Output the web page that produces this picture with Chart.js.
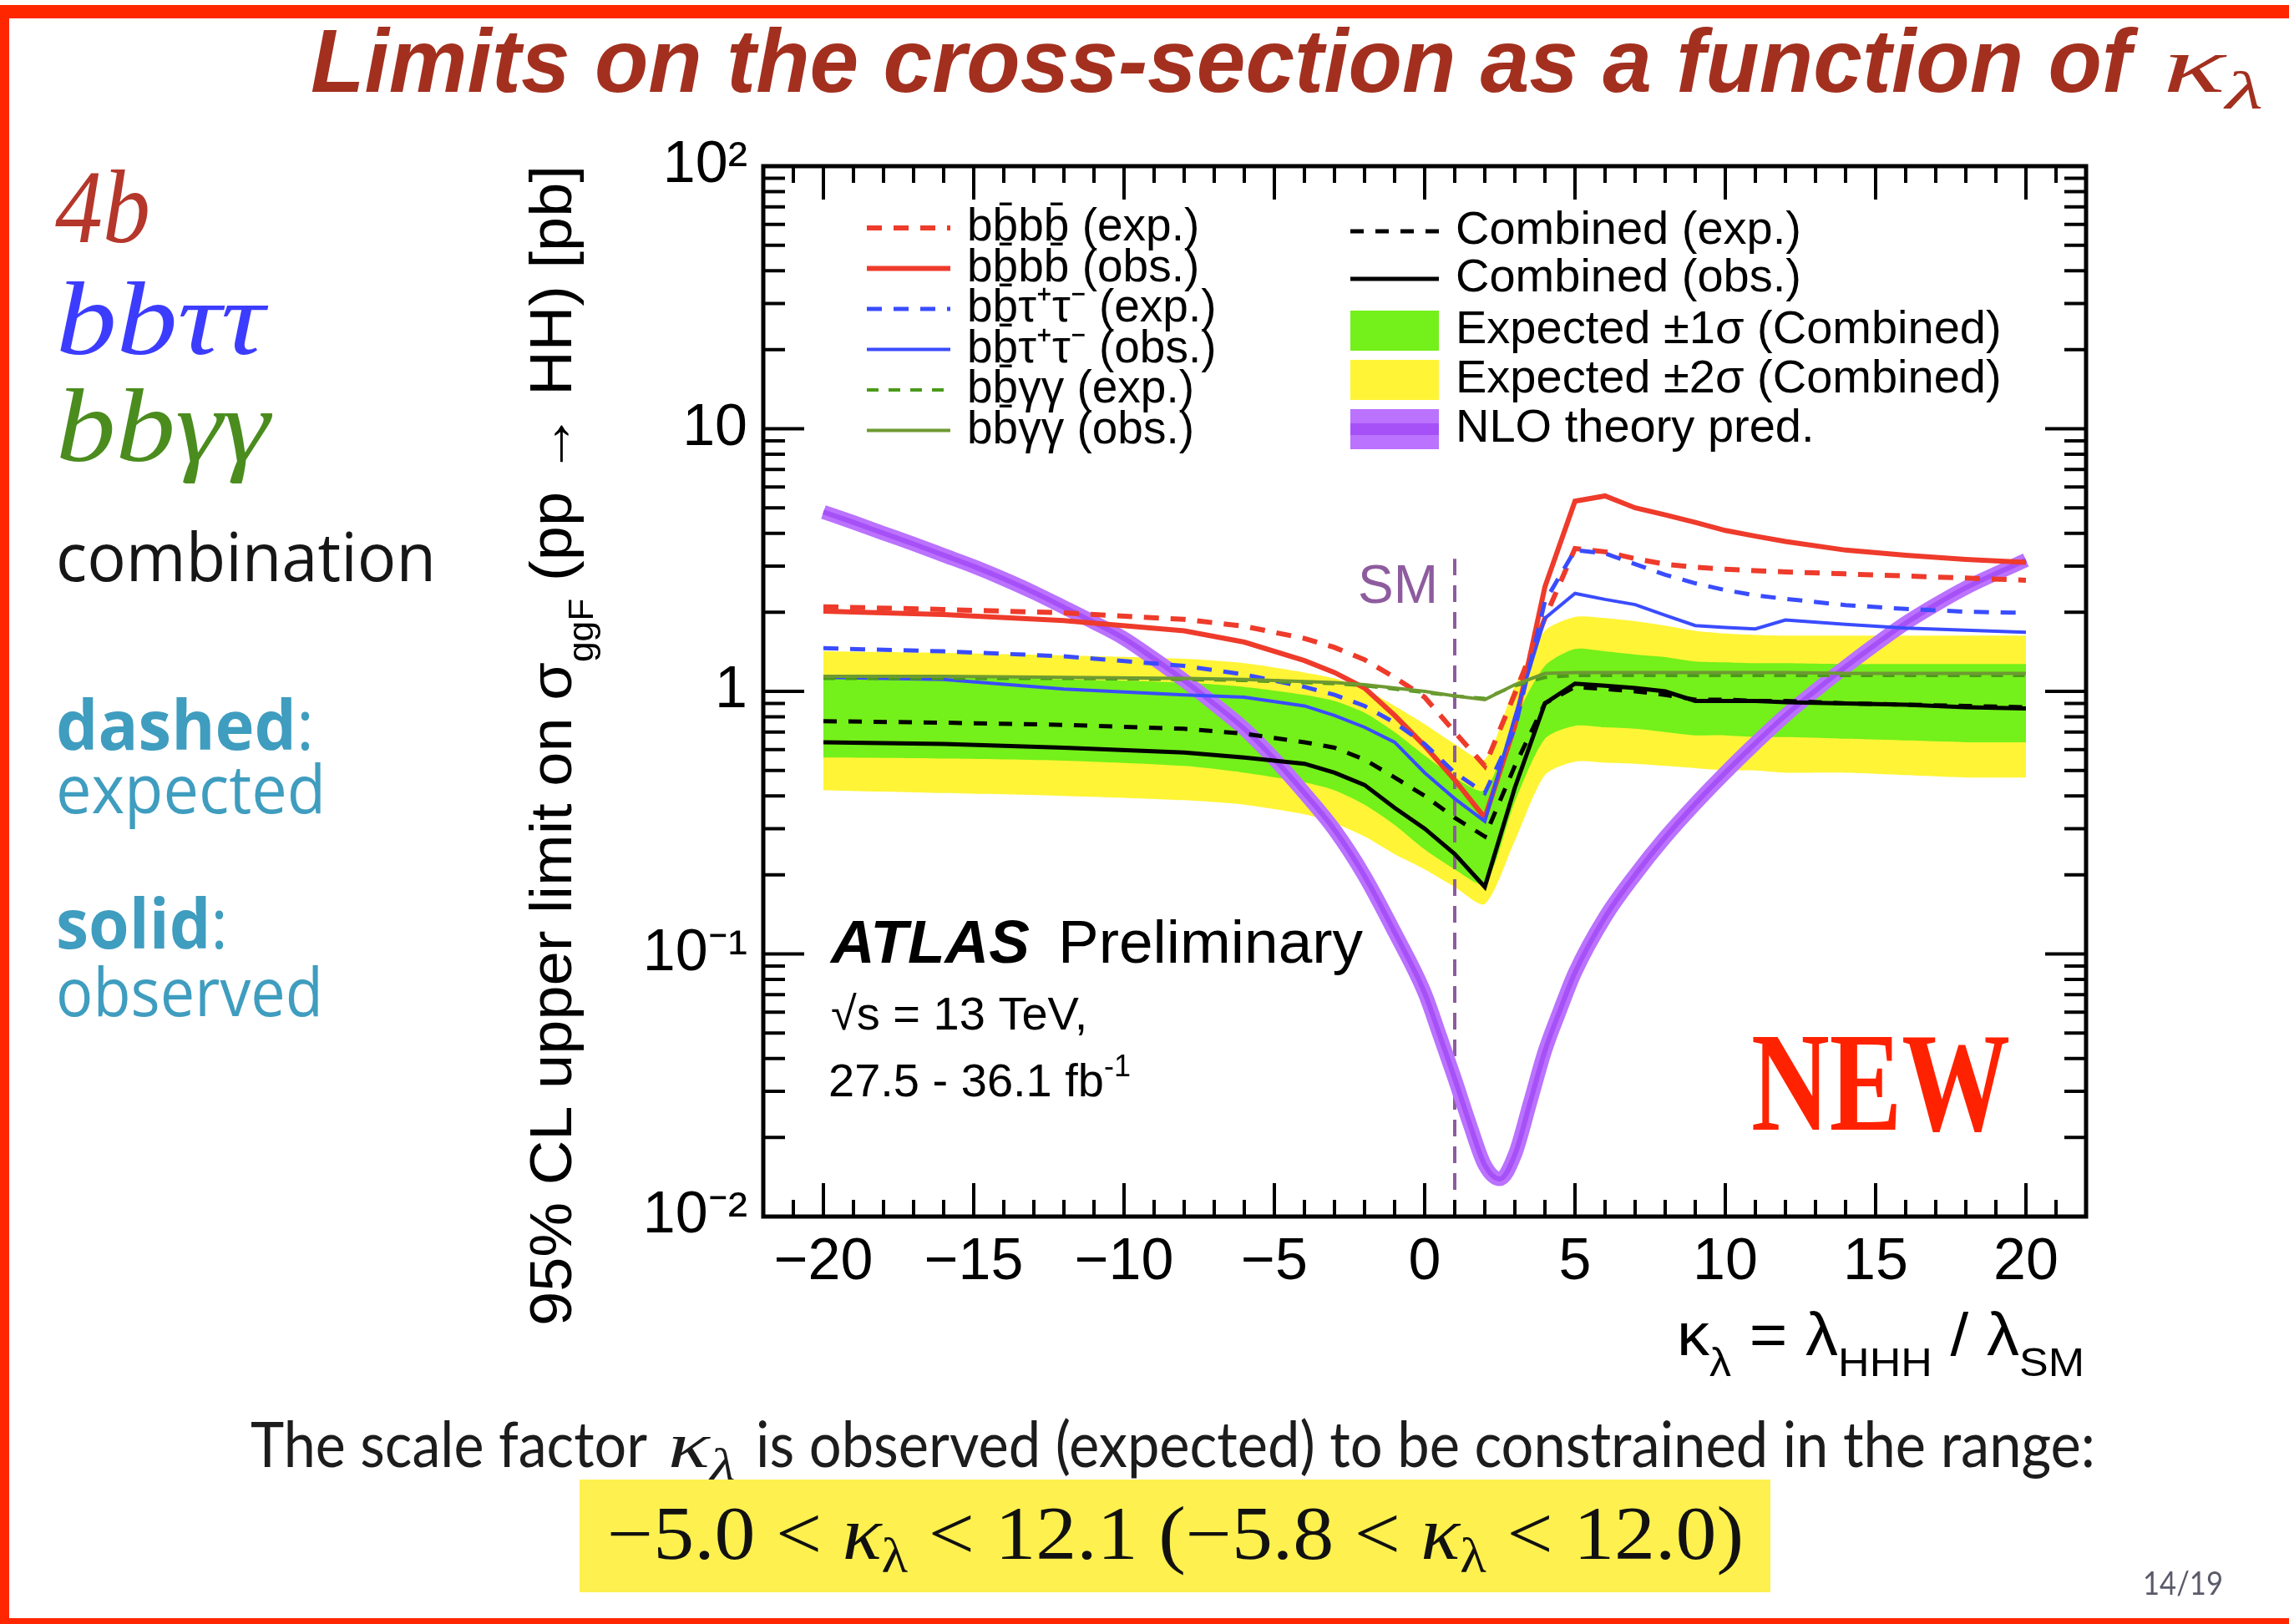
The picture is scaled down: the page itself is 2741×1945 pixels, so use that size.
<!DOCTYPE html>
<html>
<head>
<meta charset="utf-8">
<script src="https://cdn.jsdelivr.net/npm/chart.js"></script>
<style>
  html, body { margin: 0; padding: 0; background: #fff; }
  #page { position: relative; width: 2741px; height: 1945px; overflow: hidden; background: #fff; }
  #plot { position: absolute; left: 0; top: 0; }
  #slide { position: absolute; left: 0; top: 0; pointer-events: none; }
  #slide text { white-space: pre; }
</style>
</head>
<body>
<div id="page">
  <canvas id="plot" width="2741" height="1945"></canvas>
  <svg id="slide" width="2741" height="1945" xmlns="http://www.w3.org/2000/svg">
    <!-- red slide frame -->
    <rect x="0" y="6" width="2741" height="16" fill="#ff2600"/>
    <rect x="0" y="6" width="11" height="1939" fill="#ff2600"/>
    <rect x="0" y="1938" width="2741" height="7" fill="#ff2600"/>

    <text x="372" y="110" font-family="Liberation Sans" font-weight="bold" font-style="italic" font-size="107" fill="#a3301f" textLength="2180" lengthAdjust="spacingAndGlyphs">Limits on the cross-section as a function of</text>
    <text x="2590" y="110" font-family="Liberation Serif" font-style="italic" font-size="96" fill="#a3301f" textLength="120" lengthAdjust="spacingAndGlyphs">κ<tspan font-size="64" dy="20">λ</tspan></text>

    <text x="66" y="290" font-family="Liberation Serif" font-style="italic" font-size="125" fill="#b5372b" textLength="114" lengthAdjust="spacingAndGlyphs">4b</text>
    <text x="67" y="424" font-family="Liberation Serif" font-style="italic" font-size="125" fill="#3c3cff" textLength="250" lengthAdjust="spacingAndGlyphs">bbττ</text>
    <text x="67" y="552" font-family="Liberation Serif" font-style="italic" font-size="125" fill="#4b8c1e" textLength="256" lengthAdjust="spacingAndGlyphs">bbγγ</text>
    <text x="67" y="696" font-family="Open Sans" font-size="80" fill="#161616" textLength="455" lengthAdjust="spacingAndGlyphs">combination</text>
    <text x="67" y="898" font-family="Open Sans" font-size="82" fill="#3f9dbf" textLength="309" lengthAdjust="spacingAndGlyphs"><tspan font-weight="bold">dashed</tspan>:</text>
    <text x="67" y="974" font-family="Open Sans" font-size="80" fill="#3f9dbf" textLength="323" lengthAdjust="spacingAndGlyphs">expected</text>
    <text x="67" y="1136" font-family="Open Sans" font-size="82" fill="#3f9dbf" textLength="206" lengthAdjust="spacingAndGlyphs"><tspan font-weight="bold">solid</tspan>:</text>
    <text x="67" y="1217" font-family="Open Sans" font-size="80" fill="#3f9dbf" textLength="320" lengthAdjust="spacingAndGlyphs">observed</text>

    <text x="2097" y="1353" font-family="Liberation Serif" font-weight="bold" font-size="170" fill="#ff2200" textLength="310" lengthAdjust="spacingAndGlyphs">NEW</text>

    <text x="300" y="1757" font-family="Lato" font-size="76" fill="#1c1c1c" textLength="475" lengthAdjust="spacingAndGlyphs">The scale factor</text>
    <text x="800" y="1757" font-family="Liberation Serif" font-style="italic" font-size="78" fill="#1c1c1c" textLength="81" lengthAdjust="spacingAndGlyphs">κ<tspan font-size="54" dy="16">λ</tspan></text>
    <text x="905" y="1757" font-family="Lato" font-size="76" fill="#1c1c1c" textLength="1604" lengthAdjust="spacingAndGlyphs">is observed (expected) to be constrained in the range:</text>

    <rect x="694" y="1772" width="1426" height="135" fill="#fdf04f"/>
    <text x="727" y="1867" font-family="Liberation Serif" font-size="90" fill="#111" textLength="1361" lengthAdjust="spacingAndGlyphs">−5.0 &lt; <tspan font-style="italic">κ</tspan><tspan font-size="60" dy="16">λ</tspan><tspan dy="-16"> &lt; 12.1 (−5.8 &lt; </tspan><tspan font-style="italic">κ</tspan><tspan font-size="60" dy="16">λ</tspan><tspan dy="-16"> &lt; 12.0)</tspan></text>

    <text x="2566" y="1910" font-family="Lato" font-size="38" fill="#5a5a6a" textLength="96" lengthAdjust="spacingAndGlyphs">14/19</text>
  </svg>
</div>
<script>
// kappa_lambda grid used by the limit curves
const kappa = [-20, -16, -12, -8, -6, -4, -3, -2, -1, 0, 1, 2, 3, 4, 5, 6, 7, 8, 9, 10, 11, 12, 14, 16, 18, 20];

// 95% CL limits in pb
const expBbbb = [2.10, 2.05, 1.99, 1.88, 1.77, 1.59, 1.47, 1.32, 1.13, 0.95, 0.70, 0.52, 0.98, 1.9, 3.5, 3.4, 3.2, 3.05, 2.97, 2.92, 2.88, 2.85, 2.8, 2.75, 2.7, 2.65];
const obsBbbb = [2.02, 1.96, 1.86, 1.70, 1.54, 1.31, 1.18, 1.03, 0.81, 0.62, 0.46, 0.33, 0.74, 2.5, 5.3, 5.55, 5.0, 4.7, 4.4, 4.1, 3.9, 3.72, 3.45, 3.3, 3.18, 3.1];
const expBbtt = [1.46, 1.42, 1.36, 1.25, 1.16, 1.04, 0.97, 0.88, 0.76, 0.63, 0.49, 0.41, 0.72, 2.2, 3.45, 3.35, 3.05, 2.78, 2.58, 2.43, 2.32, 2.25, 2.13, 2.06, 2.01, 1.99];
const obsBbtt = [1.13, 1.11, 1.02, 0.97, 0.95, 0.88, 0.81, 0.73, 0.64, 0.49, 0.39, 0.32, 0.8, 1.9, 2.36, 2.24, 2.14, 1.95, 1.78, 1.75, 1.73, 1.87, 1.8, 1.74, 1.71, 1.68];
const expBbyy = [1.12, 1.12, 1.12, 1.11, 1.10, 1.08, 1.07, 1.05, 1.02, 0.99, 0.96, 0.94, 1.05, 1.13, 1.15, 1.15, 1.15, 1.15, 1.15, 1.15, 1.15, 1.15, 1.15, 1.15, 1.15, 1.15];
const obsBbyy = [1.14, 1.14, 1.13, 1.12, 1.11, 1.09, 1.08, 1.06, 1.03, 1.00, 0.96, 0.93, 1.06, 1.17, 1.18, 1.18, 1.18, 1.18, 1.18, 1.18, 1.18, 1.18, 1.17, 1.17, 1.17, 1.17];
const expComb = [0.77, 0.76, 0.745, 0.72, 0.69, 0.64, 0.61, 0.55, 0.47, 0.40, 0.33, 0.28, 0.52, 0.9, 1.04, 1.02, 1.0, 0.97, 0.93, 0.93, 0.92, 0.92, 0.9, 0.89, 0.88, 0.87];
const obsComb = [0.64, 0.63, 0.61, 0.585, 0.56, 0.53, 0.49, 0.44, 0.36, 0.30, 0.24, 0.18, 0.43, 0.9, 1.07, 1.05, 1.03, 1.0, 0.92, 0.92, 0.92, 0.91, 0.9, 0.89, 0.87, 0.86];

// expected bands for the combination
const band1Hi = [1.15, 1.13, 1.11, 1.08, 1.04, 0.97, 0.92, 0.83, 0.70, 0.57, 0.47, 0.42, 0.78, 1.25, 1.45, 1.42, 1.38, 1.35, 1.30, 1.29, 1.28, 1.28, 1.27, 1.27, 1.27, 1.27];
const band1Lo = [0.56, 0.555, 0.545, 0.52, 0.49, 0.45, 0.42, 0.37, 0.31, 0.25, 0.21, 0.185, 0.38, 0.66, 0.74, 0.73, 0.72, 0.70, 0.68, 0.68, 0.67, 0.67, 0.66, 0.65, 0.64, 0.64];
const band2Hi = [1.42, 1.40, 1.37, 1.33, 1.28, 1.18, 1.12, 1.02, 0.88, 0.75, 0.63, 0.55, 1.05, 1.7, 1.92, 1.9, 1.85, 1.78, 1.70, 1.66, 1.64, 1.63, 1.63, 1.63, 1.63, 1.63];
const band2Lo = [0.42, 0.41, 0.40, 0.385, 0.37, 0.34, 0.315, 0.28, 0.24, 0.21, 0.18, 0.155, 0.27, 0.48, 0.54, 0.535, 0.53, 0.52, 0.51, 0.50, 0.50, 0.49, 0.49, 0.48, 0.47, 0.47];

// NLO theory prediction (finer steps around the minimum)
const theoryKappa = [-20, -19, -18, -17, -16, -15, -14, -13, -12, -11, -10, -9, -8, -7, -6, -5, -4, -3, -2, -1, 0,
  0.5, 1, 1.5, 2, 2.5, 3, 3.5, 4, 4.5, 5,
  6, 7, 8, 9, 10, 11, 12, 13, 14, 15, 16, 17, 18, 19, 20];
const theoryNLO = [4.82, 4.40, 4.00, 3.64, 3.30, 2.99, 2.68, 2.38, 2.09, 1.83, 1.59, 1.33, 1.10, 0.895, 0.72, 0.552, 0.41, 0.297, 0.198, 0.121, 0.071,
  0.049, 0.0335, 0.0225, 0.0157, 0.0139, 0.0172, 0.027, 0.0427, 0.061, 0.085,
  0.138, 0.20, 0.278, 0.373, 0.49, 0.634, 0.81, 1.007, 1.24, 1.51, 1.82, 2.14, 2.48, 2.81, 3.16];

// SM marker
const smKappa = [1, 1];
const smRange = [0.01, 3.2];

// axes
const xTicks = [-20, -15, -10, -5, 0, 5, 10, 15, 20];
const yTicks = [0.01, 0.1, 1, 10, 100];
const yTickLabels = ['10⁻²', '10⁻¹', '1', '10', '10²'];

const FONT = "'Liberation Sans', Arial, sans-serif";
const pts = (xs, ys) => xs.map((x, i) => ({ x: x, y: ys[i] }));

function line(label, ys, color, width, dash, order, legend) {
  return {
    label: label, data: pts(kappa, ys), borderColor: color, borderWidth: width,
    borderDash: dash, pointRadius: 0, fill: false, tension: 0, order: order, legend: legend
  };
}

function bandEdge(label, ys, fill, color, order, legend) {
  return {
    label: label, data: pts(kappa, ys), borderColor: 'rgba(0,0,0,0)', borderWidth: 1,
    backgroundColor: color, pointRadius: 0, fill: fill, tension: 0.25, order: order, legend: legend
  };
}

const datasets = [
  bandEdge('Expected ±2σ (Combined)', band2Hi, '+1', '#fff436', 30, { col: 1, row: 3, kind: 'box' }),
  bandEdge('', band2Lo, false, '#fff436', 30),
  bandEdge('Expected ±1σ (Combined)', band1Hi, '+1', '#74f01a', 29, { col: 1, row: 2, kind: 'box' }),
  bandEdge('', band1Lo, false, '#74f01a', 29),
  {
    label: '', data: pts(smKappa, smRange), borderColor: '#8e5c9e', borderWidth: 4,
    borderDash: [20, 12], pointRadius: 0, fill: false, order: 28
  },
  {
    label: 'NLO theory pred.', data: pts(theoryKappa, theoryNLO), borderColor: '#bb72ff', borderWidth: 17,
    pointRadius: 0, fill: false, cubicInterpolationMode: 'monotone', order: 27,
    legend: { col: 1, row: 4, kind: 'theory', core: '#a650f7' }
  },
  {
    label: '', data: pts(theoryKappa, theoryNLO), borderColor: '#a650f7', borderWidth: 6,
    pointRadius: 0, fill: false, cubicInterpolationMode: 'monotone', order: 26
  },
  line('bb\u0304bb\u0304 (exp.)', expBbbb, '#ee3b2b', 6, [18, 14], 9, { col: 0, row: 0 }),
  line('bb\u0304bb\u0304 (obs.)', obsBbbb, '#ee3b2b', 6, [], 8, { col: 0, row: 1 }),
  line('bb\u0304τ⁺τ⁻ (exp.)', expBbtt, '#3a4cff', 5, [18, 14], 7, { col: 0, row: 2 }),
  line('bb\u0304τ⁺τ⁻ (obs.)', obsBbtt, '#3a4cff', 4, [], 6, { col: 0, row: 3 }),
  line('bb\u0304γγ (exp.)', expBbyy, '#4a9a1a', 4, [14, 12], 5, { col: 0, row: 4 }),
  line('bb\u0304γγ (obs.)', obsBbyy, '#6e9a32', 4, [], 4, { col: 0, row: 5 }),
  line('Combined (exp.)', expComb, '#000000', 5, [16, 14], 3, { col: 1, row: 0 }),
  line('Combined (obs.)', obsComb, '#000000', 5, [], 2, { col: 1, row: 1 })
];

const legendCols = [
  { x0: 1038, x1: 1138, tx: 1158, size: 55, rows: [273, 321.5, 370, 418.5, 467, 515.5] },
  { x0: 1617, x1: 1723, tx: 1743, size: 56, rows: [277, 334, 396, 455, 514] }
];

function drawParts(ctx, parts, x, y, fitWidth) {
  let total = 0;
  for (const p of parts) { ctx.font = p.font; p.w = ctx.measureText(p.text).width; total += p.w; }
  const s = fitWidth ? fitWidth / total : 1;
  ctx.save();
  ctx.translate(x, y);
  ctx.scale(s, 1);
  let cx = 0;
  for (const p of parts) { ctx.font = p.font; ctx.fillText(p.text, cx, p.dy || 0); cx += p.w; }
  ctx.restore();
}

// ROOT-style frame with inward ticks on all four sides
const framePlugin = {
  id: 'frame',
  afterDatasetsDraw(chart) {
    const { ctx, chartArea: a, scales } = chart;
    const x = scales.x, y = scales.y;
    ctx.save();
    ctx.strokeStyle = '#000';
    ctx.lineWidth = 4;
    ctx.beginPath();
    for (let k = -22; k <= 22; k++) {
      const px = x.getPixelForValue(k);
      const len = k % 5 === 0 ? 40 : 20;
      ctx.moveTo(px, a.bottom); ctx.lineTo(px, a.bottom - len);
      ctx.moveTo(px, a.top); ctx.lineTo(px, a.top + len);
    }
    for (let e = -2; e <= 1; e++) {
      for (let m = 1; m <= 9; m++) {
        const py = y.getPixelForValue(m * Math.pow(10, e));
        const len = m === 1 ? 49 : 26;
        ctx.moveTo(a.left, py); ctx.lineTo(a.left + len, py);
        ctx.moveTo(a.right, py); ctx.lineTo(a.right - len, py);
      }
    }
    ctx.stroke();
    ctx.lineWidth = 5;
    ctx.strokeRect(a.left, a.top, a.right - a.left, a.bottom - a.top);
    ctx.restore();
  }
};

const legendPlugin = {
  id: 'atlasLegend',
  afterDatasetsDraw(chart) {
    const ctx = chart.ctx;
    chart.data.datasets.forEach(ds => {
      const e = ds.legend;
      if (!e) return;
      const col = legendCols[e.col];
      const yy = col.rows[e.row];
      ctx.save();
      if (e.kind === 'box') {
        ctx.fillStyle = ds.backgroundColor;
        ctx.fillRect(col.x0, yy - 24, col.x1 - col.x0, 48);
      } else if (e.kind === 'theory') {
        ctx.fillStyle = ds.borderColor;
        ctx.fillRect(col.x0, yy - 24, col.x1 - col.x0, 48);
        ctx.fillStyle = e.core;
        ctx.fillRect(col.x0, yy - 7, col.x1 - col.x0, 14);
      } else {
        ctx.strokeStyle = ds.borderColor;
        ctx.lineWidth = ds.borderWidth;
        ctx.setLineDash(ds.borderDash || []);
        ctx.beginPath();
        ctx.moveTo(col.x0, yy);
        ctx.lineTo(col.x1, yy);
        ctx.stroke();
      }
      ctx.fillStyle = '#000';
      ctx.font = col.size + 'px ' + FONT;
      ctx.textBaseline = 'middle';
      ctx.fillText(ds.label, col.tx, yy);
      ctx.restore();
    });
  }
};

const labelPlugin = {
  id: 'labels',
  afterDatasetsDraw(chart) {
    const ctx = chart.ctx;
    ctx.save();
    ctx.textAlign = 'left';
    ctx.textBaseline = 'alphabetic';
    ctx.fillStyle = '#000';

    // y axis title, rotated
    ctx.save();
    ctx.translate(684, 1588);
    ctx.rotate(-Math.PI / 2);
    drawParts(ctx, [
      { text: '95% CL upper limit on σ', font: '70px ' + FONT },
      { text: 'ggF', font: '42px ' + FONT, dy: 26 },
      { text: ' (pp → HH) [pb]', font: '70px ' + FONT }
    ], 0, 0, 1390);
    ctx.restore();

    // x axis title
    drawParts(ctx, [
      { text: 'κ', font: '72px ' + FONT },
      { text: 'λ', font: '48px ' + FONT, dy: 25 },
      { text: ' = λ', font: '72px ' + FONT },
      { text: 'HHH', font: '48px ' + FONT, dy: 25 },
      { text: ' / λ', font: '72px ' + FONT },
      { text: 'SM', font: '48px ' + FONT, dy: 25 }
    ], 2008, 1623, 488);

    // ATLAS label
    ctx.font = 'italic bold 73px ' + FONT;
    ctx.fillText('ATLAS', 995, 1153);
    ctx.font = '73px ' + FONT;
    ctx.fillText('Preliminary', 1267, 1153);
    ctx.font = '56px ' + FONT;
    ctx.fillText('√s = 13 TeV,', 995, 1233);
    drawParts(ctx, [
      { text: '27.5 - 36.1 fb', font: '56px ' + FONT },
      { text: '-1', font: '36px ' + FONT, dy: -24 }
    ], 992, 1313);

    ctx.fillStyle = '#8e5c9e';
    ctx.font = '64px ' + FONT;
    ctx.fillText('SM', 1626, 722);
    ctx.restore();
  }
};

new Chart(document.getElementById('plot'), {
  type: 'line',
  data: { datasets: datasets },
  options: {
    responsive: false,
    animation: false,
    devicePixelRatio: 1,
    layout: { padding: { left: 600, top: 199, right: 243, bottom: 368 } },
    plugins: { legend: { display: false }, tooltip: { enabled: false } },
    scales: {
      x: {
        type: 'linear', min: -22, max: 22,
        grid: { display: false, drawTicks: false },
        border: { display: false },
        afterBuildTicks: s => { s.ticks = xTicks.map(v => ({ value: v })); },
        afterFit: s => { s.height = 120; },
        ticks: {
          autoSkip: false, maxRotation: 0, padding: 14, color: '#000',
          font: { family: 'Liberation Sans', size: 70 },
          callback: v => (v < 0 ? '\u2212' + Math.abs(v) : String(v))
        }
      },
      y: {
        type: 'logarithmic', min: 0.01, max: 100,
        grid: { display: false, drawTicks: false },
        border: { display: false },
        afterBuildTicks: s => { s.ticks = yTicks.map(v => ({ value: v })); },
        afterFit: s => { s.width = 314; },
        ticks: {
          autoSkip: false, padding: 19, color: '#000',
          font: { family: 'Liberation Sans', size: 70 },
          callback: (v, i) => yTickLabels[i]
        }
      }
    }
  },
  plugins: [framePlugin, legendPlugin, labelPlugin]
});
</script>
</body>
</html>
